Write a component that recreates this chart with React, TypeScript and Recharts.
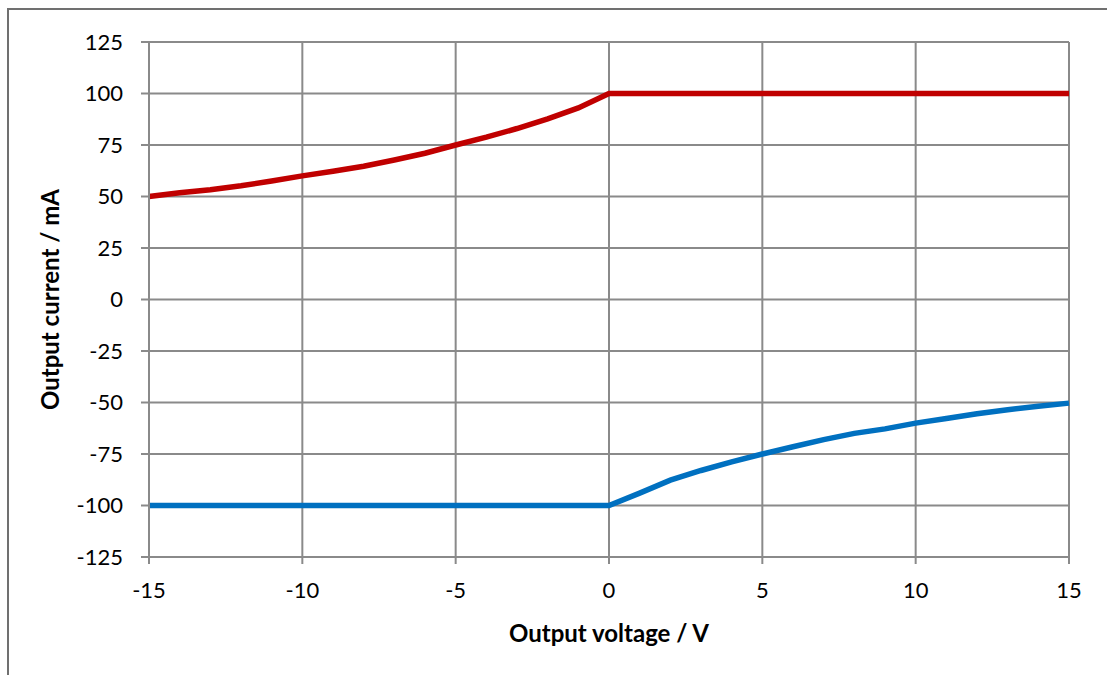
import React from "react";
import { LineChart, Line, XAxis, YAxis, CartesianGrid } from "recharts";

const voltage = [-15, -14, -13, -12, -11, -10, -9, -8, -7, -6, -5, -4, -3, -2, -1, 0, 1, 2, 3, 4, 5, 6, 7, 8, 9, 10, 11, 12, 13, 14, 15];
const sourceCurrent = [50, 51.8, 53.3, 55.2, 57.5, 60, 62.3, 64.7, 67.7, 71, 75, 78.8, 83, 87.7, 93, 100, 100, 100, 100, 100, 100, 100, 100, 100, 100, 100, 100, 100, 100, 100, 100];
const sinkCurrent = [-100, -100, -100, -100, -100, -100, -100, -100, -100, -100, -100, -100, -100, -100, -100, -100, -94, -87.7, -83, -78.8, -75, -71.5, -68, -65, -62.8, -60, -57.8, -55.5, -53.5, -51.8, -50.3];
const xTicks = [-15, -10, -5, 0, 5, 10, 15];
const yTicks = [-125, -100, -75, -50, -25, 0, 25, 50, 75, 100, 125];
const xTitle = "Output voltage / V";
const yTitle = "Output current / mA";

const data = voltage.map((v, i) => ({ v, source: sourceCurrent[i], sink: sinkCurrent[i] }));

const FONT = "Lato, 'Open Sans', sans-serif";
const GRID = "#8a8a8a";

const XTitle = (props: any) => {
  const vb = props.viewBox;
  return (
    <text x={vb.x + vb.width / 2} y={642} textAnchor="middle" fontFamily={FONT} fontWeight={700} fontSize={24} fill="#000">
      {xTitle}
    </text>
  );
};

const YTitle = (props: any) => {
  const vb = props.viewBox;
  const cy = vb.y + vb.height / 2;
  const cx = 59;
  return (
    <text x={cx} y={cy} textAnchor="middle" transform={`rotate(-90 ${cx} ${cy})`} fontFamily={FONT} fontWeight={700} fontSize={24} fill="#000">
      {yTitle}
    </text>
  );
};

export default function App() {
  return (
    <div style={{ position: "absolute", left: 0, top: 0, width: 1107, height: 675, background: "#fff", overflow: "hidden" }}>
      <div style={{ position: "absolute", left: 7, top: 8, width: 1200, height: 800, borderTop: "2px solid #707070", borderLeft: "2px solid #707070" }} />
      <div style={{ position: "absolute", left: 0, top: 0 }}>
        <LineChart width={1107} height={675} data={data} margin={{ top: 42, right: 38, bottom: 28, left: 0 }}>
          <CartesianGrid stroke={GRID} strokeWidth={2} />
          <XAxis
            dataKey="v"
            type="number"
            domain={[-15, 15]}
            ticks={xTicks}
            height={90}
            tickSize={7}
            tickMargin={18}
            axisLine={{ stroke: GRID, strokeWidth: 2 }}
            tickLine={{ stroke: GRID, strokeWidth: 2 }}
            tick={{ fill: "#000", fontSize: 22, fontFamily: FONT }}
            label={<XTitle />}
          />
          <YAxis
            type="number"
            domain={[-125, 125]}
            ticks={yTicks}
            width={149}
            tickSize={8}
            tickMargin={18}
            axisLine={{ stroke: GRID, strokeWidth: 2 }}
            tickLine={{ stroke: GRID, strokeWidth: 2 }}
            tick={{ fill: "#000", fontSize: 22, fontFamily: FONT }}
            label={<YTitle />}
          />
          <Line type="linear" dataKey="source" stroke="#c00000" strokeWidth={5.5} dot={false} isAnimationActive={false} />
          <Line type="linear" dataKey="sink" stroke="#0070c0" strokeWidth={5.5} dot={false} isAnimationActive={false} />
        </LineChart>
      </div>
    </div>
  );
}
